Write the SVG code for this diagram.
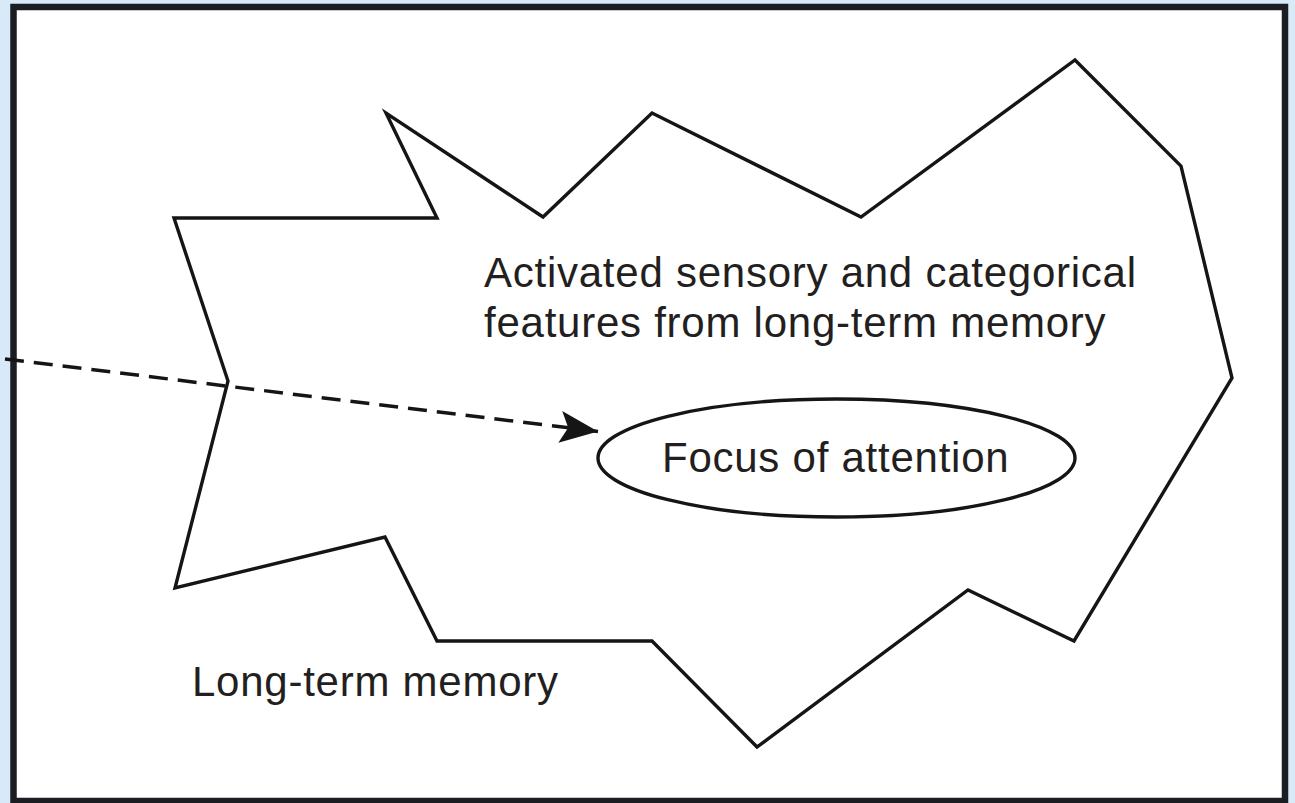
<svg xmlns="http://www.w3.org/2000/svg" width="1295" height="803" viewBox="0 0 1295 803">
<style>
.shape{fill:none;stroke:#151515;stroke-width:3.4;stroke-linejoin:miter}
.lbl{font-family:"Liberation Sans",Arial,Helvetica,sans-serif;font-size:42px;letter-spacing:0.75px;fill:#231f20}
.conn{fill:none;stroke:#151515;stroke-width:3.5;stroke-dasharray:19 10}
</style>
<defs>
<marker id="arrow" markerUnits="userSpaceOnUse" viewBox="-42 -20 44 40" markerWidth="44" markerHeight="40" refX="0" refY="0" orient="auto">
<path d="M0,0 L-38,-16 L-30,0 L-38,16 Z" fill="#151515"/>
</marker>
</defs>
<rect x="0" y="0" width="1295" height="803" fill="#d8e9f8"/>
<rect id="frame" x="13.5" y="7" width="1271.5" height="794" fill="#ffffff" stroke="#1a1e22" stroke-width="6.5"/>
<g id="long-term-memory">
<polygon class="shape" points="386,113 437,218 174,218 228,381 175,588 385,537 437,641 652,641 757,747 968,590 1074,641 1232,378 1181,166 1075,60 861,217 652,113 543,217"/>
<text class="lbl" x="192" y="696">Long-term memory</text>
</g>
<g id="activated-features">
<text class="lbl" x="484" y="287">Activated sensory and categorical</text>
<text class="lbl" x="484" y="337">features from long-term memory</text>
</g>
<g id="focus">
<ellipse class="shape" cx="836.5" cy="458" rx="238.5" ry="59"/>
<text class="lbl" x="662" y="472">Focus of attention</text>
</g>
<g id="connectors">
<line class="conn" x1="5" y1="359" x2="598" y2="431.4" marker-end="url(#arrow)"/>
</g>
</svg>
